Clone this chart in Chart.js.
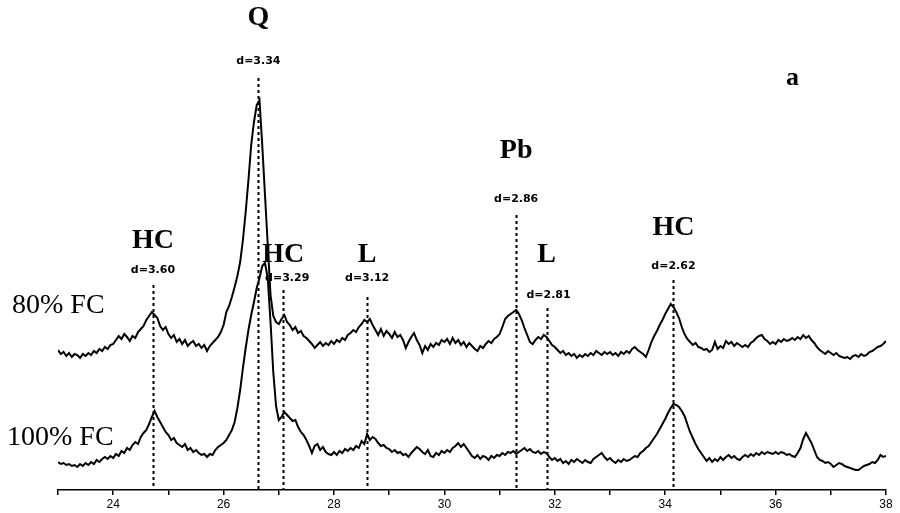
<!DOCTYPE html>
<html>
<head>
<meta charset="utf-8">
<title>XRD pattern a</title>
<script src="https://cdn.jsdelivr.net/npm/chart.js@4.4.1/dist/chart.umd.min.js"></script>
<style>
  html, body { margin: 0; padding: 0; background: #fff; }
  #wrap { width: 900px; height: 513px; }
</style>
</head>
<body>
<div id="wrap"><canvas id="xrd"></canvas></div>
<script>
// 2-theta grid, start and step
const thetaStart = 23;
const thetaStep = 0.05;

// 80% FC intensity (arbitrary units)
const fc80 = [
  140,136,138,134,137,133,136,135,132,136,134,137,135,139,137,141,139,143,141,145,
  146,150,154,151,156,153,149,154,152,158,161,164,170,174,178,175,172,164,160,163,
  156,152,155,148,151,146,150,144,147,149,144,146,142,145,139,144,147,150,153,158,
  165,178,184,193,203,214,228,250,278,310,345,368,385,390,345,295,245,195,174,168,
  166,171,175,168,165,160,163,157,159,154,152,149,146,142,145,148,144,147,145,149,
  146,150,148,152,150,155,157,160,158,163,166,170,168,171,165,160,155,161,154,159,
  156,152,158,153,155,150,142,148,153,157,150,145,137,144,140,146,143,147,145,150,
  148,151,146,152,147,150,145,148,143,147,144,141,139,144,142,146,149,147,151,153,
  156,163,171,174,176,178,180,176,170,162,155,148,146,150,153,151,155,153,149,145,
  143,140,137,139,135,137,134,136,132,135,133,136,134,137,135,139,137,135,138,136,
  138,135,137,134,138,136,139,137,141,143,140,138,136,133,140,148,154,159,165,170,
  176,181,186,183,178,172,163,156,151,148,145,147,143,142,140,141,138,140,148,141,
  144,142,149,146,148,144,147,145,143,145,143,147,149,152,154,155,151,149,146,148,
  146,150,148,151,149,150,152,150,153,151,155,152,154,150,147,143,140,138,136,139,
  137,135,137,134,133,132,133,131,134,135,133,136,134,135,138,139,141,143,144,146,149
];

// 100% FC intensity
const fc100 = [
  28,26,27,25,26,24,25,23,26,24,27,25,28,26,30,28,31,33,31,34,
  32,36,34,39,37,42,40,45,48,46,53,57,60,66,73,79,73,68,63,58,
  55,50,52,47,45,43,46,40,42,38,40,37,35,36,33,36,35,40,43,45,
  47,50,55,60,68,82,100,122,142,160,175,188,202,212,224,227,212,168,118,84,
  70,73,78,75,72,69,70,63,58,55,50,44,37,44,46,40,43,38,36,35,
  38,35,39,37,41,39,42,40,44,42,49,46,56,50,53,51,47,44,45,42,
  41,38,40,37,38,35,36,33,37,40,43,41,38,36,40,34,33,37,35,39,
  37,40,38,42,44,47,43,46,42,38,34,32,35,31,34,33,30,34,32,35,
  34,37,35,38,37,39,36,38,40,42,39,41,38,37,39,36,38,37,33,30,
  32,29,31,27,29,26,30,28,31,29,27,30,28,27,31,33,35,37,33,30,
  32,29,27,30,28,31,29,30,32,34,33,37,39,42,44,48,52,56,61,66,
  71,77,82,86,85,83,79,74,66,58,52,46,41,37,33,29,32,28,31,29,
  33,30,33,35,32,34,31,30,33,35,33,36,34,37,35,38,36,38,37,36,
  38,36,38,37,35,36,34,33,37,42,51,57,52,47,40,33,30,29,27,28,
  26,23,25,27,26,24,23,22,21,20,20,22,24,25,26,28,27,30,35,33,34
];

// x axis
const xMin = 23, xMax = 38;

// reflections: 2-theta, phase, d-spacing
const peakTheta = [24.72, 26.63, 27.08, 28.6, 31.3, 31.85, 34.15];
const peakPhase = ['HC', 'Q', 'HC', 'L', 'Pb', 'L', 'HC'];
const peakD = ['d=3.60', 'd=3.34', 'd=3.29', 'd=3.12', 'd=2.86', 'd=2.81', 'd=2.62'];

// annotation layout (value units on the hidden y axis)
const markTop = [205, 412, 200, 193, 275, 182, 210];
const phaseY = [249, 472, 235, 235, 339, 235, 262];
const dY = [220, 429, 212, 212, 291, 195, 224];
const dShift = [0, 0, 4, 0, 0, 2, 0];

const toPoints = arr => arr.map((v, i) => ({ x: +(thetaStart + i * thetaStep).toFixed(2), y: v }));

const markers = {
  id: 'markers',
  beforeDatasetsDraw(chart) {
    const { ctx, scales: { x, y } } = chart;
    ctx.save();
    ctx.strokeStyle = '#000';
    ctx.lineWidth = 2;
    ctx.setLineDash([3, 3]);
    peakTheta.forEach((t, i) => {
      const px = Math.round(x.getPixelForValue(t)) + 0.5;
      ctx.beginPath();
      ctx.moveTo(px, y.getPixelForValue(markTop[i]));
      ctx.lineTo(px, y.getPixelForValue(0));
      ctx.stroke();
    });
    ctx.restore();
  },
  afterDatasetsDraw(chart) {
    const { ctx, scales: { x, y } } = chart;
    ctx.save();
    ctx.fillStyle = '#000';
    ctx.textAlign = 'center';
    ctx.textBaseline = 'middle';
    peakTheta.forEach((t, i) => {
      const px = x.getPixelForValue(t);
      ctx.font = 'bold 28px "Liberation Serif"';
      ctx.fillText(peakPhase[i], px, y.getPixelForValue(phaseY[i]));
      ctx.font = 'bold 11px "DejaVu Sans"';
      ctx.fillText(peakD[i], px + dShift[i], y.getPixelForValue(dY[i]));
    });
    ctx.textAlign = 'left';
    ctx.font = '28px "Liberation Serif"';
    ctx.fillText('80% FC', 12, 306);
    ctx.fillText('100% FC', 7, 438);
    ctx.font = 'bold 26px "Liberation Serif"';
    ctx.fillText('a', 786, 78);
    ctx.restore();
  }
};

const config = {
  type: 'line',
  data: {
    datasets: [{
      label: '80% FC',
      data: toPoints(fc80),
      borderColor: '#000',
      borderWidth: 2,
      pointRadius: 0,
      tension: 0
    }, {
      label: '100% FC',
      data: toPoints(fc100),
      borderColor: '#000',
      borderWidth: 2,
      pointRadius: 0,
      tension: 0
    }]
  },
  options: {
    responsive: true,
    maintainAspectRatio: false,
    animation: false,
    layout: { padding: { left: 58, right: 14, top: 0, bottom: 0 } },
    plugins: {
      legend: { display: false },
      tooltip: { enabled: false }
    },
    scales: {
      x: {
        type: 'linear',
        min: xMin,
        max: xMax,
        afterFit: s => { s.height = 23; },
        border: { display: true, color: '#000', width: 1.5 },
        grid: { drawOnChartArea: false, drawTicks: true, tickLength: 5, color: '#000', lineWidth: 1.5 },
        ticks: {
          stepSize: 1,
          autoSkip: false,
          maxRotation: 0,
          padding: 2,
          color: '#000',
          font: { family: 'Liberation Sans', size: 12 },
          callback: v => (v % 2 === 0 ? v : '')
        }
      },
      y: {
        display: false,
        min: 0,
        max: 490
      }
    }
  },
  plugins: [markers]
};

new Chart(document.getElementById('xrd'), config);
</script>
</body>
</html>
